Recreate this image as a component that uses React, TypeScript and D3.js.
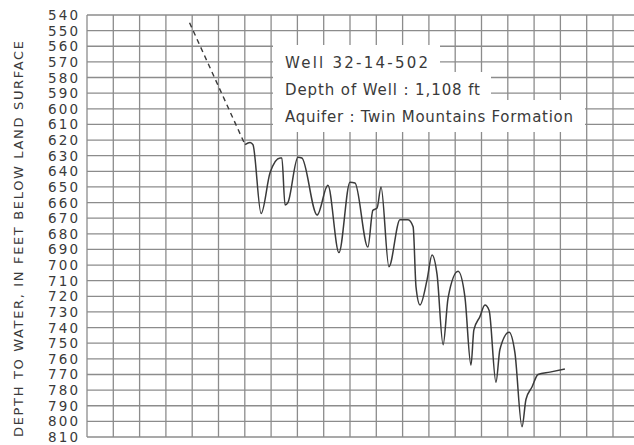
import React from "react";
import * as d3 from "d3";

// Time in grid columns (x-axis unlabeled in the reference), depth in feet
const dashedT = [3.9, 6.01];
const dashedDepth = [545, 623];

const solidT = [6.01, 6.2, 6.31, 6.62, 6.96, 7.34, 7.41, 7.53, 7.64, 8.02, 8.17, 8.75, 9.16, 9.58, 10.0, 10.19, 10.68, 10.87, 11.03, 11.18, 11.48, 11.9, 12.21, 12.4, 12.51, 12.66, 12.93, 13.12, 13.31, 13.54, 13.73, 14.11, 14.37, 14.6, 14.71, 14.94, 15.13, 15.29, 15.55, 15.7, 16.05, 16.27, 16.54, 16.69, 16.92, 17.15, 17.6, 18.17];
const solidDepth = [623, 621.5, 623, 667, 641, 631.5, 631.5, 661.5, 660, 631, 631.5, 668, 649, 692, 647, 647.5, 688.5, 665, 663.5, 650, 701, 671, 671, 675.5, 714, 725.5, 709.5, 693.5, 706, 751, 721, 704, 720.5, 764, 741.5, 733, 725.5, 729, 775, 754, 743, 756, 803.5, 786, 778, 770, 768.5, 766.5];

const yTicks = d3.range(540, 811, 10);
const xGridCols = d3.range(0, 21, 1);

const yTitle = "DEPTH TO WATER, IN FEET BELOW LAND SURFACE";
const infoLines = ["Well 32-14-502", "Depth of Well : 1,108 ft", "Aquifer : Twin Mountains Formation"];

export default function App() {
  const W = 634, H = 445;
  const y = d3.scaleLinear().domain([540, 810]).range([15, 437]);
  const x = d3.scaleLinear().domain([0, 20]).range([87, 613]);
  const right = 634;

  const line = d3.line<[number, number]>().x(d => x(d[0])).y(d => y(d[1])).curve(d3.curveMonotoneX);
  const dashedPts = dashedT.map((t, i) => [t, dashedDepth[i]] as [number, number]);
  const solidPts = solidT.map((t, i) => [t, solidDepth[i]] as [number, number]);

  const font = "'DejaVu Sans', sans-serif";
  const ink = "#3a3a3a";

  // staircase white boxes behind the info text
  const boxes = [
    { x0: 273, x1: 440, y0: 45, y1: 73 },
    { x0: 273, x1: 491, y0: 72, y1: 101 },
    { x0: 273, x1: 585, y0: 100, y1: 132 },
  ];
  const infoBaselines = [68, 95, 122];
  const infoWidths = [143, 195, 288];

  return (
    <svg width={W} height={H} style={{ position: "absolute", left: 0, top: 0, background: "#fff" }}>
      <rect x={0} y={0} width={W} height={H} fill="#fff" />
      <g stroke="#8c8c8c" strokeWidth={1.3}>
        {yTicks.map(v => (
          <line key={"h" + v} x1={x(0)} x2={right} y1={y(v)} y2={y(v)} />
        ))}
        {xGridCols.map(c => (
          <line key={"v" + c} x1={x(c)} x2={x(c)} y1={y(540)} y2={y(810)} />
        ))}
      </g>
      {boxes.map((b, i) => (
        <rect key={"b" + i} x={b.x0} y={b.y0} width={b.x1 - b.x0} height={b.y1 - b.y0} fill="#fff" />
      ))}
      {infoLines.map((s, i) => (
        <text key={"t" + i} x={285} y={infoBaselines[i]} fontFamily={font} fontSize={15} fill={ink}
          textLength={infoWidths[i]} lengthAdjust="spacing">{s}</text>
      ))}
      {yTicks.map(v => (
        <text key={"l" + v} x={78} y={y(v) + 5} textAnchor="end" fontFamily={font} fontSize={13.5} fill={ink}
          textLength={30} lengthAdjust="spacing">{v}</text>
      ))}
      <text transform={`translate(23,${(437 + 41) / 2}) rotate(-90)`} textAnchor="middle" fontFamily={font}
        fontSize={13} fill={ink} textLength={396} lengthAdjust="spacing">{yTitle}</text>
      <path d={line(dashedPts) || ""} fill="none" stroke={ink} strokeWidth={1.4} strokeDasharray="5,4" />
      <path d={line(solidPts) || ""} fill="none" stroke={ink} strokeWidth={1.5} strokeLinejoin="round" />
    </svg>
  );
}
